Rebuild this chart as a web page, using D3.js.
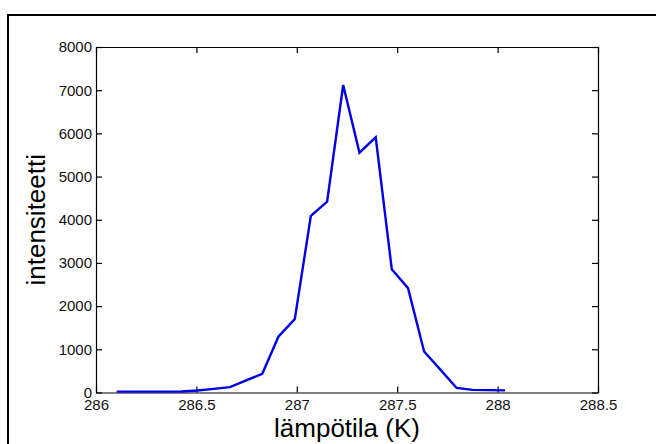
<!DOCTYPE html>
<html><head><meta charset="utf-8">
<script src="https://cdn.jsdelivr.net/npm/d3@7"></script>
<style>body{margin:0;background:#fff}svg{display:block}</style>
</head><body>
<svg id="c" width="656" height="444"></svg>
<script>
const temps = [286.103,286.184,286.264,286.345,286.425,286.506,286.587,286.667,286.748,286.828,
  286.909,286.990,287.070,287.151,287.231,287.312,287.393,287.473,287.554,287.634,
  287.715,287.796,287.876,287.957,288.037];
const intensity = [20,20,20,20,22,45,85,125,280,433,
  1296,1699,4089,4420,7120,5554,5910,2855,2416,949,
  530,105,60,55,50];
const xTicks = [286,286.5,287,287.5,288,288.5];
const xTickLabels = ["286","286.5","287","287.5","288","288.5"];
const yTicks = [0,1000,2000,3000,4000,5000,6000,7000,8000];
const xLabel = "lämpötila (K)";
const yLabel = "intensiteetti";

const svg = d3.select("#c");
const L=96, R=598, T=47, B=392.5;
const x = d3.scaleLinear().domain([286,288.5]).range([L,R]);
const y = d3.scaleLinear().domain([0,8000]).range([B,T]);
const font = "'Liberation Sans', Arial, sans-serif";

// outer frame (partially cut)
svg.append("path").attr("d","M8,470 L8,15 L700,15").attr("fill","none").attr("stroke","#000").attr("stroke-width",2);

const tl = 6;
const g = svg.append("g");
const xb = g.append("g").attr("transform",`translate(0,${B})`)
  .call(d3.axisBottom(x).tickValues(xTicks).tickFormat((d,i)=>xTickLabels[i]).tickSizeInner(-tl).tickSizeOuter(0).tickPadding(7));
const xt = g.append("g").attr("transform",`translate(0,${T})`)
  .call(d3.axisTop(x).tickValues(xTicks).tickFormat("").tickSizeInner(-tl).tickSizeOuter(0));
const yl = g.append("g").attr("transform",`translate(${L},0)`)
  .call(d3.axisLeft(y).tickValues(yTicks).tickFormat(d3.format("d")).tickSizeInner(-tl).tickSizeOuter(0).tickPadding(4));
const yr = g.append("g").attr("transform",`translate(${R},0)`)
  .call(d3.axisRight(y).tickValues(yTicks).tickFormat("").tickSizeInner(-tl).tickSizeOuter(0));
g.selectAll(".domain").attr("stroke","#000").attr("stroke-width",1.2);
g.selectAll(".tick line").attr("stroke","#000").attr("stroke-width",1.2);
g.selectAll(".tick text").attr("font-family",font).attr("font-size",15).attr("fill","#111");
xb.selectAll(".tick text").attr("dy","0.71em");

svg.append("path").datum(temps.map((t,i)=>[t,intensity[i]]))
  .attr("d", d3.line().x(d=>x(d[0])).y(d=>y(d[1])))
  .attr("fill","none").attr("stroke","#0000e6").attr("stroke-width",2.4).attr("stroke-linejoin","miter");

svg.append("text").attr("x",(L+R)/2).attr("y",437).attr("text-anchor","middle")
  .attr("font-family",font).attr("font-size",26).attr("fill","#000").text(xLabel);
svg.append("text").attr("transform",`translate(45,${(T+B)/2}) rotate(-90)`).attr("text-anchor","middle")
  .attr("font-family",font).attr("font-size",26).attr("fill","#000").text(yLabel);
</script>
</body></html>
